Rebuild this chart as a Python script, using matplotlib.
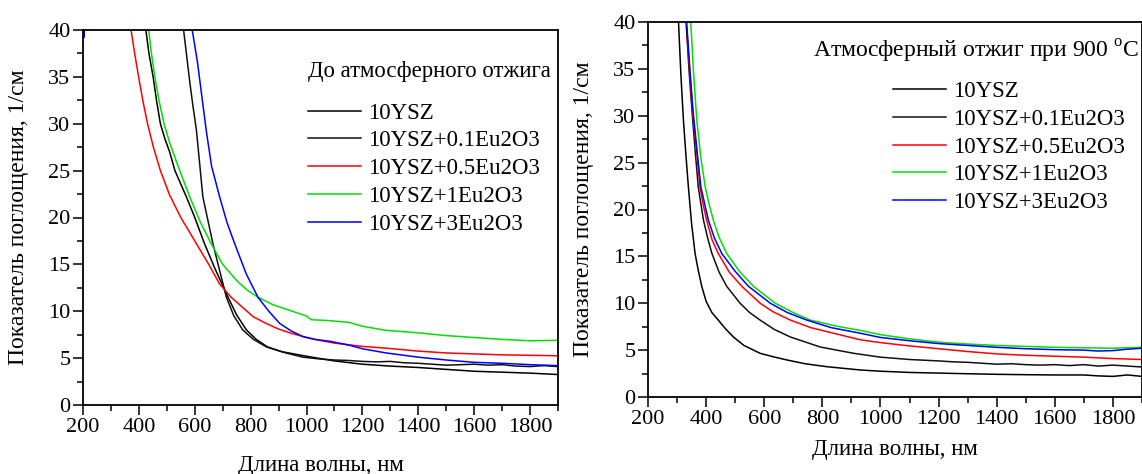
import matplotlib
matplotlib.use('Agg')
import matplotlib.pyplot as plt
import numpy as np
from matplotlib.ticker import MultipleLocator

plt.rcParams['font.family'] = ['Liberation Serif', 'DejaVu Serif']
plt.rcParams['mathtext.fontset'] = 'custom'
plt.rcParams['mathtext.rm'] = 'Liberation Serif'

labels = ['10YSZ', '10YSZ+0.1Eu2O3', '10YSZ+0.5Eu2O3', '10YSZ+1Eu2O3', '10YSZ+3Eu2O3']
colors = ['black', '#111111', '#ff0000', '#00e000', '#0000ff']

# --- before annealing (left)
l_ysz_x = [425, 436, 451, 463, 477, 493, 510, 529, 570, 600, 635, 673, 719, 750, 785, 820, 860, 910, 1000,
           1100, 1200, 1300, 1400, 1500, 1600, 1700, 1800, 1900]
l_ysz_y = [40, 37.5, 35, 32.5, 30, 28.4, 27.0, 25, 22.2, 20, 17.2, 14.5, 11.5, 9.6, 8.0, 7.0, 6.2, 5.7, 5.2,
           4.7, 4.35, 4.15, 4.0, 3.8, 3.6, 3.5, 3.4, 3.25]
l_eu01_x = [560, 572, 582, 593, 606, 629, 665, 713, 740, 772, 810, 856, 920, 987, 1050, 1100, 1150, 1200,
            1250, 1300, 1350, 1400, 1450, 1500, 1550, 1600, 1650, 1700, 1750, 1800, 1850, 1900]
l_eu01_y = [40, 37, 34.5, 32, 29.3, 22.2, 17.2, 11.5, 9.5, 8.0, 7.0, 6.2, 5.6, 5.1, 4.9, 4.8, 4.75, 4.65,
            4.6, 4.65, 4.5, 4.45, 4.35, 4.25, 4.3, 4.35, 4.25, 4.3, 4.15, 4.1, 4.2, 4.1]
l_eu05_x = [372, 385, 399, 414, 431, 452, 477, 510, 550, 606, 650, 689, 730, 772, 810, 856, 900, 951, 1000,
            1046, 1100, 1200, 1285, 1400, 1500, 1600, 1700, 1800, 1900]
l_eu05_y = [40, 37.5, 35, 32.5, 30, 27.5, 25, 22.4, 20, 17.2, 15, 12.9, 11.5, 10.4, 9.4, 8.7, 8.1, 7.6, 7.2,
            6.9, 6.6, 6.25, 6.06, 5.75, 5.55, 5.45, 5.35, 5.3, 5.25]
l_eu1_x = [435, 445, 457, 472, 490, 510, 540, 582, 620, 659, 700, 749, 790, 826, 880, 939, 999, 1017, 1083,
           1154, 1200, 1285, 1400, 1500, 1600, 1700, 1800, 1900]
l_eu1_y = [40, 37.5, 35, 32.5, 30, 28.0, 25.5, 22.2, 19.5, 17.2, 15.0, 13.3, 12.2, 11.5, 10.7, 10.1, 9.5, 9.1,
           9.0, 8.8, 8.4, 7.96, 7.7, 7.4, 7.2, 7.0, 6.85, 6.9]
l_eu3_x = [201, 203, 205, np.nan, 591, 610, 625, 641, 660, 689, 715, 743, 784, 826, 865, 904, 945, 987, 1030,
           1083, 1150, 1200, 1285, 1400, 1500, 1600, 1700, 1800, 1900]
l_eu3_y = [41, 39.2, 41, np.nan, 40, 36.5, 33, 29.3, 25.5, 22.2, 19.5, 17.2, 14.0, 11.5, 10.0, 8.7, 7.9, 7.3,
           7.0, 6.8, 6.4, 6.0, 5.55, 5.1, 4.8, 4.55, 4.45, 4.3, 4.2]

# --- after annealing at 900 C (right)
r_ysz_x = [305, 313, 322, 330, 339, 350, 362, 373, 385, 400, 420, 442, 466, 494, 530, 586, 630, 678, 740,
           816, 931, 1000, 1100, 1200, 1300, 1400, 1500, 1600, 1700, 1750, 1800, 1850, 1900]
r_ysz_y = [40, 34.5, 29.5, 26, 22.4, 18.5, 15.3, 13.5, 11.8, 10.2, 9.0, 8.2, 7.3, 6.4, 5.5, 4.66, 4.3, 3.95,
           3.55, 3.23, 2.88, 2.75, 2.62, 2.55, 2.48, 2.42, 2.38, 2.35, 2.35, 2.25, 2.2, 2.35, 2.2]
r_eu01_x = [331, 342, 354, 363, 373, 382, 391, 405, 420, 445, 471, 517, 550, 586, 635, 690, 793, 908, 1000,
            1100, 1200, 1250, 1300, 1350, 1400, 1450, 1500, 1550, 1600, 1650, 1700, 1750, 1800, 1850, 1900]
r_eu01_y = [40, 34.5, 29.5, 26, 22.4, 20.6, 18.85, 17, 15.3, 13.3, 11.8, 10.0, 9.0, 8.2, 7.2, 6.4, 5.33,
            4.66, 4.25, 4.0, 3.85, 3.75, 3.7, 3.6, 3.5, 3.55, 3.45, 3.4, 3.45, 3.35, 3.45, 3.3, 3.4, 3.3, 3.2]
r_eu05_x = [335, 345, 355, 368, 379, 390, 402, 420, 442, 480, 523, 586, 630, 690, 760, 839, 931, 1000, 1100,
            1200, 1300, 1400, 1500, 1600, 1700, 1800, 1900]
r_eu05_y = [38.5, 34, 30, 26, 22.4, 20.5, 18.85, 16.8, 15.3, 13.3, 11.8, 10.0, 9.1, 8.2, 7.4, 6.8, 6.1, 5.8,
            5.45, 5.15, 4.85, 4.6, 4.45, 4.35, 4.25, 4.1, 4.0]
r_eu1_x = [347, 357, 368, 382, 397, 410, 425, 445, 471, 515, 563, 638, 700, 759, 850, 931, 1000, 1100, 1200,
           1300, 1400, 1500, 1600, 1700, 1800, 1900]
r_eu1_y = [40, 34.5, 29.5, 25.5, 22.4, 20.6, 18.85, 17, 15.3, 13.4, 11.8, 10.0, 9.0, 8.2, 7.55, 7.1, 6.65,
           6.2, 5.85, 5.65, 5.5, 5.4, 5.3, 5.25, 5.2, 5.3]
r_eu3_x = [333, 344, 355, 368, 382, 395, 408, 428, 454, 500, 546, 621, 680, 747, 830, 931, 1000, 1100, 1200,
           1300, 1400, 1500, 1600, 1700, 1750, 1800, 1850, 1900]
r_eu3_y = [40, 35, 30.5, 26.5, 22.4, 20.6, 18.85, 17, 15.3, 13.4, 11.8, 10.0, 9.0, 8.2, 7.4, 6.8, 6.35, 6.0,
           5.7, 5.5, 5.3, 5.15, 5.05, 5.0, 4.9, 4.95, 5.1, 5.2]

left_series = [(l_ysz_x, l_ysz_y), (l_eu01_x, l_eu01_y), (l_eu05_x, l_eu05_y), (l_eu1_x, l_eu1_y), (l_eu3_x, l_eu3_y)]
right_series = [(r_ysz_x, r_ysz_y), (r_eu01_x, r_eu01_y), (r_eu05_x, r_eu05_y), (r_eu1_x, r_eu1_y), (r_eu3_x, r_eu3_y)]

fig = plt.figure(figsize=(11.42, 4.74), dpi=100)
ax1 = fig.add_axes([83 / 1142, 69 / 474, 475 / 1142, 375 / 474])
ax2 = fig.add_axes([648 / 1142, 77 / 474, 494 / 1142, 375 / 474])


def style(ax, title, title_size, tx, ty, lx, ly):
    ax.set_xlim(200, 1900)
    ax.set_ylim(0, 40)
    ax.xaxis.set_major_locator(MultipleLocator(200))
    ax.xaxis.set_minor_locator(MultipleLocator(100))
    ax.yaxis.set_major_locator(MultipleLocator(5))
    ax.yaxis.set_minor_locator(MultipleLocator(2.5))
    ax.tick_params(which='both', direction='out', top=False, right=False, labelsize=16, width=1.1)
    ax.tick_params(which='major', length=7, pad=2)
    ax.tick_params(which='minor', length=4)
    for s in ax.spines.values():
        s.set_linewidth(1.3)
    ax.set_xlabel('Длина волны, нм', fontsize=16.5)
    ax.set_ylabel('Показатель поглощения, 1/см', fontsize=17)
    ax.text(tx, ty, title, transform=ax.transAxes, fontsize=title_size, va='center', ha='left')
    ax.legend(loc='upper left', bbox_to_anchor=(lx, ly), frameon=False, fontsize=16.5,
              handlelength=2.3, handletextpad=0.3, labelspacing=0.29, borderpad=0, borderaxespad=0)


for (x, y), lab, c in zip(left_series, labels, colors):
    ax1.plot(x, y, color=c, lw=1.1, label=lab)
for (x, y), lab, c in zip(right_series, labels, colors):
    ax2.plot(x, y, color=c, lw=1.1, label=lab)

style(ax1, 'До атмосферного отжига', 16.4, 0.474, 0.889, 0.474, 0.806)
style(ax2, 'Атмосферный отжиг при 900 $^{\\rm o}$C', 17, 0.333, 0.921, 0.496, 0.842)
ax1.xaxis.set_label_coords(0.5, -0.133)
ax2.xaxis.set_label_coords(0.5, -0.112)
ax1.yaxis.set_label_coords(-0.114, 0.5)
ax2.yaxis.set_label_coords(-0.109, 0.5)

fig.savefig('out.png', dpi=100)
